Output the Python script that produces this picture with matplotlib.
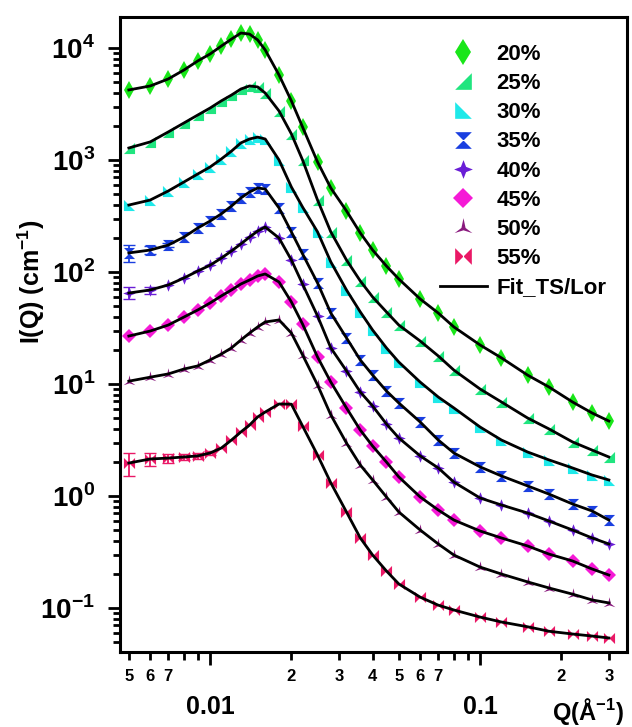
import numpy as np
import matplotlib
matplotlib.use('Agg')
import matplotlib.pyplot as plt
from matplotlib.path import Path
from matplotlib.lines import Line2D
from matplotlib.ticker import FixedLocator, FixedFormatter

plt.rcParams['font.family'] = ['Liberation Sans', 'DejaVu Sans']
plt.rcParams['font.weight'] = 'bold'
plt.rcParams['mathtext.fontset'] = 'custom'
plt.rcParams['mathtext.rm'] = 'Liberation Sans:bold'
plt.rcParams['mathtext.bf'] = 'Liberation Sans:bold'

# Q grid (1/A) and intensities I(Q) (1/cm)
q = [0.005, 0.006, 0.007, 0.008, 0.009, 0.010, 0.011, 0.012, 0.013, 0.014,
     0.015, 0.016, 0.018, 0.020, 0.022, 0.025, 0.028, 0.032, 0.036, 0.040,
     0.045, 0.050, 0.060, 0.070, 0.080, 0.100, 0.120, 0.150, 0.180, 0.220,
     0.260, 0.300]
i20 = [4220, 4580, 5290, 6360, 7660, 8840, 10400, 12000, 13600, 13300,
       11800, 9600, 5740, 3370, 1970, 960, 562, 351, 223, 157,
       113, 86.6, 57.4, 43.0, 32.3, 22.3, 17.1, 12.0, 9.40, 6.91, 5.51, 4.67]
i25 = [1280, 1450, 1780, 2140, 2520, 2910, 3370, 3800, 4300, 4580,
       4490, 3960, 2740, 1710, 1000, 439, 228, 128, 83.2, 59.8,
       44.0, 33.6, 24.2, 17.8, 13.3, 9.02, 6.91, 4.97, 3.97, 3.04, 2.57, 2.23]
i30 = [396, 439, 529, 636, 750, 866, 1020, 1200, 1420, 1540,
       1600, 1540, 1000, 574, 380, 228, 123, 69.1, 44.0, 30.3,
       21.0, 15.7, 10.4, 7.65, 6.11, 4.13, 3.16, 2.47, 2.10, 1.78, 1.54, 1.39]
i35 = [148, 157, 174, 205, 247, 285, 330, 388, 458, 518,
       562, 551, 373, 228, 145, 79.8, 43.0, 25.8, 16.4, 12.0,
       8.66, 6.77, 4.58, 3.16, 2.42, 1.82, 1.51, 1.23, 1.04, 0.849, 0.735, 0.610]
i40 = [64.9, 69.1, 76.6, 88.4, 102, 115, 133, 154, 178, 205,
       232, 252, 201, 128, 78.1, 40.5, 21.0, 13.1, 8.48, 6.36,
       4.39, 3.30, 2.28, 1.78, 1.33, 0.96, 0.831, 0.705, 0.598, 0.497, 0.422, 0.373]
i45 = [26.8, 29.7, 33.6, 39.6, 45.8, 52.9, 61.1, 69.1, 78.1, 84.8,
       92.1, 96.0, 81.4, 54.0, 34.3, 17.4, 10.4, 6.11, 3.88, 2.79,
       2.01, 1.48, 0.98, 0.750, 0.610, 0.487, 0.422, 0.358, 0.303, 0.263, 0.223, 0.197]
i50 = [10.6, 11.5, 12.3, 13.6, 14.5, 16.4, 18.5, 21.0, 24.7, 28.5,
       32.3, 35.8, 37.3, 28.5, 18.2, 9.80, 5.29, 2.97, 1.89, 1.39,
       0.98, 0.720, 0.497, 0.373, 0.297, 0.232, 0.201, 0.171, 0.151, 0.133, 0.118, 0.111]
i55 = [1.97, 2.14, 2.18, 2.23, 2.28, 2.42, 2.68, 3.16, 3.73, 4.30,
       5.08, 5.62, 6.63, 6.60, 4.22, 2.32, 1.31, 0.720, 0.422, 0.297,
       0.214, 0.164, 0.125, 0.106, 0.096, 0.083, 0.075, 0.068, 0.062, 0.0586, 0.0562, 0.054]

# error bars on the first low-Q points
err35 = [25, 12, 8]
err40 = [8, 5]
err55 = [0.45, 0.3, 0.2, 0.15, 0.12, 0.1]

labels = ['20%', '25%', '30%', '35%', '40%', '45%', '50%', '55%']
colors = ['#19e619', '#20e57f', '#1fe9e9', '#1a3fe0', '#6a1ed6', '#f51ad6', '#8a1a7e', '#ea1866']

tri_br = Path([(-1, -1), (1, -1), (1, 1), (-1, -1)])
tri_bl = Path([(-1, 1), (-1, -1), (1, -1), (-1, 1)])
hourglass = Path([(-1, 1), (1, 1), (-1, -1), (1, -1), (-1, 1)])
bowtie = Path([(-1, 1), (-1, -1), (1, 1), (1, -1), (-1, 1)])
star4 = Path([(0, 1), (0.28, 0.28), (1, 0), (0.28, -0.28), (0, -1), (-0.28, -0.28),
              (-1, 0), (-0.28, 0.28), (0, 1)])
star3 = Path([(0, 1), (0.22, -0.05), (0.95, -0.6), (0, -0.3), (-0.95, -0.6),
              (-0.22, -0.05), (0, 1)])
markers = ['d', tri_br, tri_bl, hourglass, star4, 'D', star3, bowtie]
msizes = [9, 8, 8, 8, 9, 7, 9, 8]

series = [i20, i25, i30, i35, i40, i45, i50, i55]

fig = plt.figure(figsize=(6.32, 7.27), dpi=100)
ax = fig.add_axes([0.190, 0.1032, 0.802, 0.8734])

for y, c, m, ms in zip(series, colors, markers, msizes):
    ax.plot(q, y, ls='none', marker=m, color=c, ms=ms, mew=0, zorder=2)
    ax.plot(q, y, color='black', lw=2, zorder=3)

ax.errorbar(q[:3], i35[:3], yerr=err35, fmt='none', ecolor=colors[3], capsize=4, elinewidth=1.3, zorder=2)
ax.errorbar(q[:2], i40[:2], yerr=err40, fmt='none', ecolor=colors[4], capsize=4, elinewidth=1.3, zorder=2)
ax.errorbar(q[:6], i55[:6], yerr=err55, fmt='none', ecolor=colors[7], capsize=4, elinewidth=1.3, zorder=2)

ax.set_xscale('log')
ax.set_yscale('log')
ax.set_xlim(0.00464, 0.35)
ax.set_ylim(0.0405, 18900)

for s in ax.spines.values():
    s.set_linewidth(2.2)

# x ticks
ax.xaxis.set_major_locator(FixedLocator([0.01, 0.1]))
ax.xaxis.set_major_formatter(FixedFormatter(['0.01', '0.1']))
xminor = [0.005, 0.006, 0.007, 0.008, 0.009, 0.02, 0.03, 0.04, 0.05, 0.06, 0.07,
          0.08, 0.09, 0.2, 0.3]
xminor_lab = ['5', '6', '7', '', '', '2', '3', '4', '5', '6', '7', '', '', '2', '3']
ax.xaxis.set_minor_locator(FixedLocator(xminor))
ax.xaxis.set_minor_formatter(FixedFormatter(xminor_lab))
ax.tick_params(axis='x', which='major', direction='out', length=9, width=2, pad=22, labelsize=18)
ax.tick_params(axis='x', which='minor', direction='out', length=5.5, width=2, pad=7, labelsize=12)

# y ticks
yt = [0.1, 1, 10, 100, 1000, 10000]
ax.yaxis.set_major_locator(FixedLocator(yt))
ax.yaxis.set_major_formatter(FixedFormatter([r'$10^{-1}$', r'$10^{0}$', r'$10^{1}$',
                                             r'$10^{2}$', r'$10^{3}$', r'$10^{4}$']))
yminor = [k * 10.0 ** e for e in range(-2, 5) for k in range(2, 10)]
ax.yaxis.set_minor_locator(FixedLocator(yminor))
ax.yaxis.set_minor_formatter(FixedFormatter([''] * len(yminor)))
ax.tick_params(axis='y', which='major', direction='out', length=9, width=2, pad=9, labelsize=20)
ax.tick_params(axis='y', which='minor', direction='out', length=5, width=2)

ax.text(-0.175, 0.583, r'I(Q) (cm$^{-1}$)', transform=ax.transAxes, rotation=90,
        ha='center', va='center', fontsize=18, fontweight='bold')
ax.text(0.923, -0.093, 'Q(Å$^{-1}$)', transform=ax.transAxes,
        ha='center', va='center', fontsize=17, fontweight='bold')

handles = [Line2D([], [], ls='none', marker=m, color=c, ms=ms * 1.5, mew=0)
           for c, m, ms in zip(colors, markers, msizes)]
handles.append(Line2D([], [], color='black', lw=2))
ax.legend(handles, labels + ['Fit_TS/Lor'], loc='upper left', bbox_to_anchor=(0.631, 0.958),
          frameon=False, handlelength=2.1, handletextpad=0.45,
          labelspacing=0.37, borderpad=0, borderaxespad=0,
          prop={'weight': 'bold', 'size': 16})

fig.savefig('out.png', dpi=100)
